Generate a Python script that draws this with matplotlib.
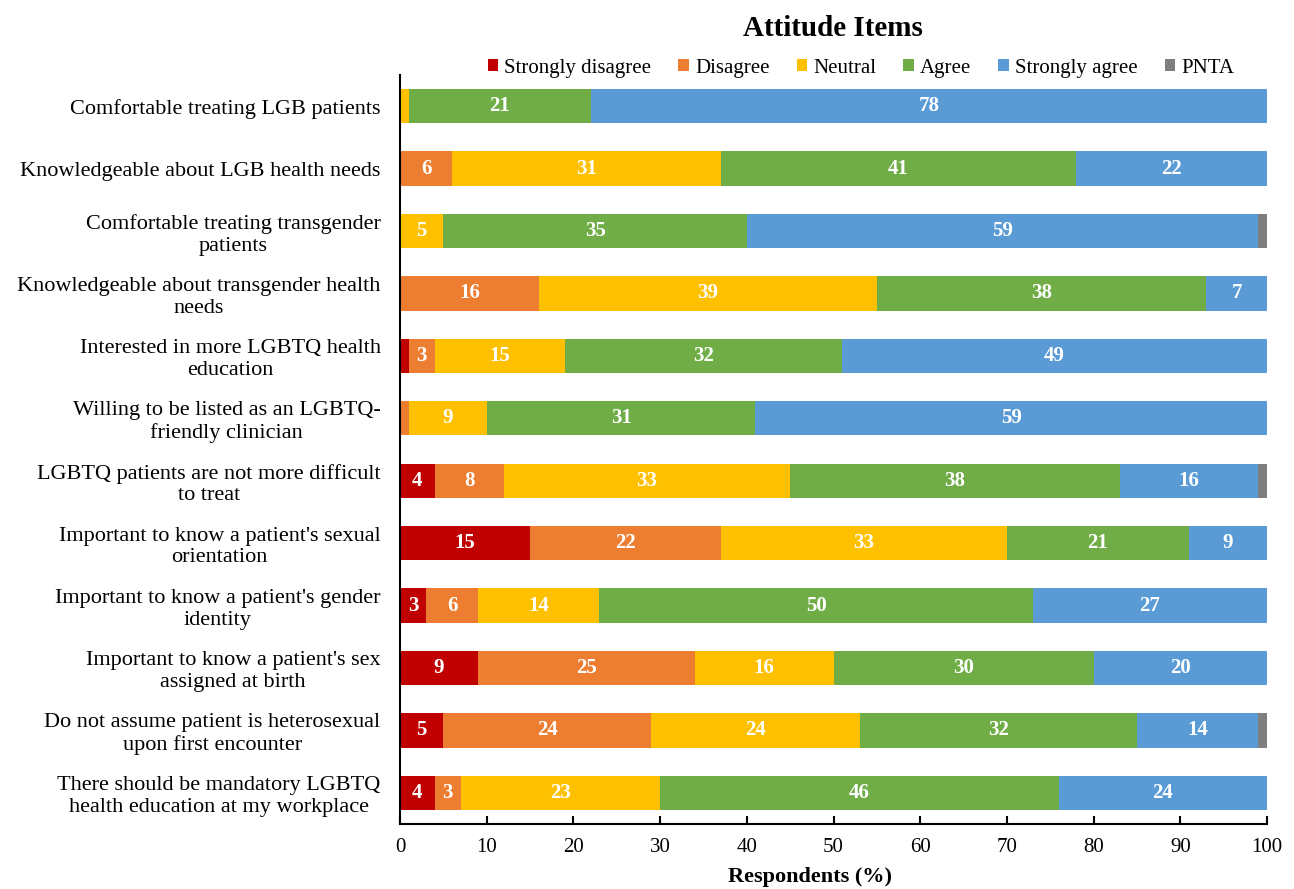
import matplotlib
matplotlib.use("Agg")
import matplotlib.pyplot as plt
import numpy as np

items = [
    "Comfortable treating LGB patients",
    "Knowledgeable about LGB health needs",
    "Comfortable treating transgender\npatients",
    "Knowledgeable about transgender health\nneeds",
    "Interested in more LGBTQ health\neducation",
    "Willing to be listed as an LGBTQ-\nfriendly clinician",
    "LGBTQ patients are not more difficult\nto treat",
    "Important to know a patient's sexual\norientation",
    "Important to know a patient's gender\nidentity",
    "Important to know a patient's sex\nassigned at birth",
    "Do not assume patient is heterosexual\nupon first encounter",
    "There should be mandatory LGBTQ\nhealth education at my workplace",
]
categories = ["Strongly disagree", "Disagree", "Neutral", "Agree", "Strongly agree", "PNTA"]
strongly_disagree = [0, 0, 0, 0, 1, 0, 4, 15, 3, 9, 5, 4]
disagree = [0, 6, 0, 16, 3, 1, 8, 22, 6, 25, 24, 3]
neutral = [1, 31, 5, 39, 15, 9, 33, 33, 14, 16, 24, 23]
agree = [21, 41, 35, 38, 32, 31, 38, 21, 50, 30, 32, 46]
strongly_agree = [78, 22, 59, 7, 49, 59, 16, 9, 27, 20, 14, 24]
pnta = [0, 0, 1, 0, 0, 0, 1, 0, 0, 0, 1, 0]
colors = ["#C00000", "#ED7D31", "#FFC000", "#70AD47", "#5B9BD5", "#7F7F7F"]
xticks = list(range(0, 101, 10))

series = [strongly_disagree, disagree, neutral, agree, strongly_agree, pnta]

plt.rcParams['font.family'] = ['Liberation Serif', 'DejaVu Serif']

W, H = 1294, 889
fig = plt.figure(figsize=(W/100, H/100), dpi=100)
ax = fig.add_axes([400/W, 1 - 824/H, 867/W, (824-75)/H])

y = np.arange(len(items))
left = np.zeros(len(items))
for name, vals, col in zip(categories, series, colors):
    vals = np.array(vals, dtype=float)
    ax.barh(y, vals, left=left, height=0.55, color=col, label=name)
    for yi, (l, v) in enumerate(zip(left, vals)):
        if v >= 2:
            ax.text(l + v/2, yi, f"{int(v)}", ha='center', va='center',
                    color='white', fontsize=15, fontweight='bold')
    left += vals

ax.set_ylim(len(items) - 0.5, -0.5)
ax.set_xlim(0, 100)
ax.set_xticks(xticks)
ax.set_yticks(y)
ax.set_yticklabels(items, fontsize=16, multialignment='center', linespacing=1.2)
ax.tick_params(axis='y', length=0, pad=14)
ax.tick_params(axis='x', direction='in', length=6, width=1.5, labelsize=15, pad=10)
for s in ['top', 'right']:
    ax.spines[s].set_visible(False)
for s in ['left', 'bottom']:
    ax.spines[s].set_linewidth(1.5)

fig.text(810/W, 1 - 877/H, "Respondents (%)", ha='center', va='center',
         fontsize=16, fontweight='bold')
fig.text(833/W, 1 - 28/H, "Attitude Items", ha='center', va='center',
         fontsize=21, fontweight='bold')
leg = ax.legend(loc='center', bbox_to_anchor=((861-400)/867, 1 + 7/749), ncol=6, frameon=False,
                fontsize=15, handlelength=0.5, handleheight=0.5, handletextpad=0.3,
                columnspacing=1.3)

fig.savefig("out.png", dpi=100)
